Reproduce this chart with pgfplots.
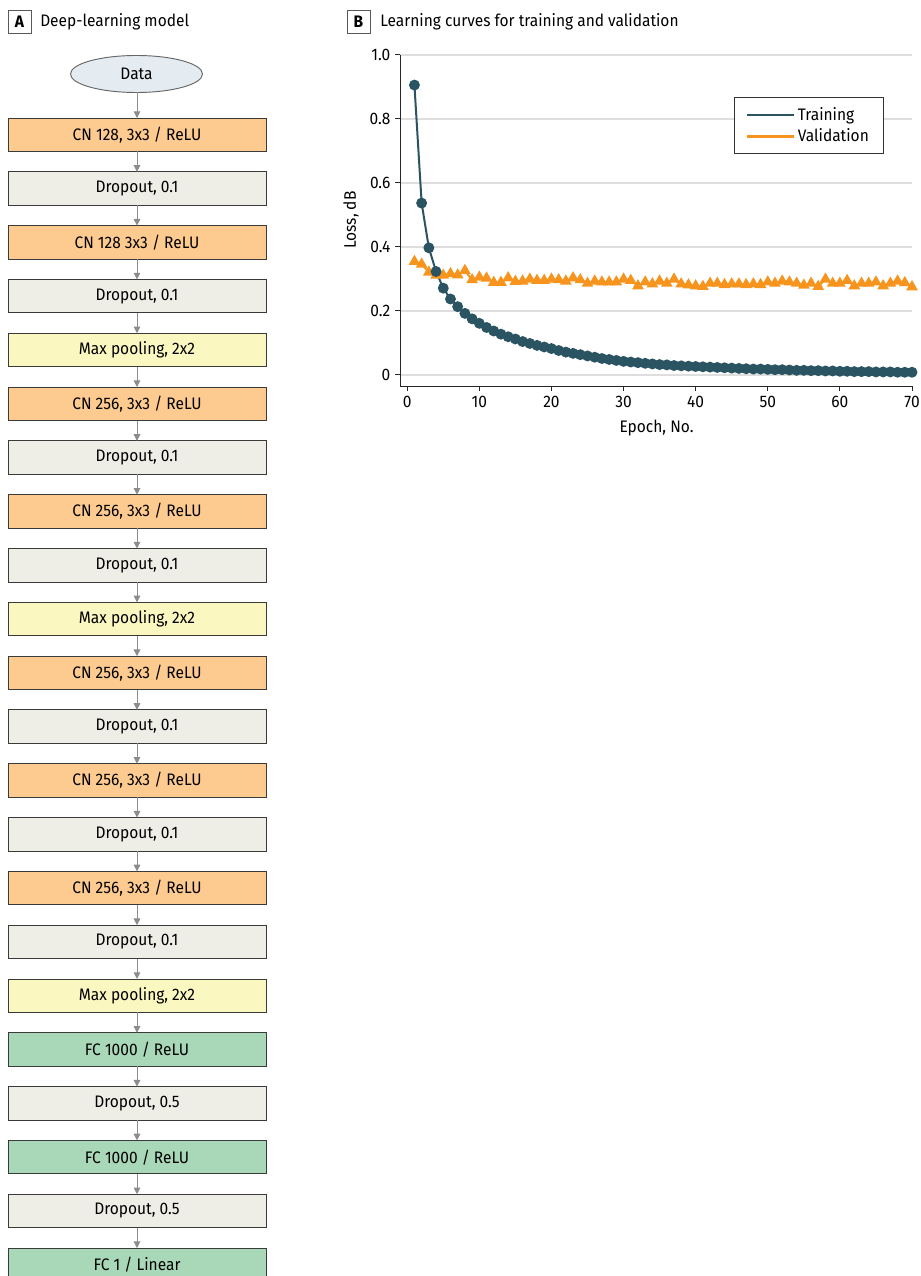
\documentclass[border=0pt]{standalone}
\usepackage{pgfplots}
\pgfplotsset{compat=1.18}
\usepackage{fontspec}
\setmainfont{Fira Sans}[FakeStretch=0.93]
\usetikzlibrary{arrows.meta,shapes.geometric}
\definecolor{cnc}{HTML}{FDCB8F}
\definecolor{dpc}{HTML}{EEEDE6}
\definecolor{mpc}{HTML}{FAF7C0}
\definecolor{fcc}{HTML}{A9D8B9}
\definecolor{datac}{HTML}{E4ECF1}
\definecolor{bordc}{HTML}{3A3A3A}
\definecolor{arrc}{HTML}{8C8C8C}
\definecolor{trainc}{HTML}{2B5463}
\definecolor{validc}{HTML}{F7941D}
\definecolor{gridc}{HTML}{DEDEDE}
\newcommand{\blk}[3]{%
  \node[draw=bordc, line width=0.7pt, fill=#2, minimum width=193.5pt, minimum height=25.1pt, inner sep=0pt]
    at (137,{134.75+53.81*#1}) {#3};}
\newcommand{\arr}[1]{%
  \draw[arrc, line width=0.75pt, -{Triangle[width=5pt,length=5pt]}] (137,{151.5+53.81*#1}) -- (137,{171.81+53.81*#1});}
\begin{document}
\begin{tikzpicture}[font=\fontsize{12.5}{15}\selectfont]
\begin{scope}[x=0.75pt,y=-0.75pt]
  % panel titles
  \node[draw=black!65, line width=0.6pt, minimum size=17.25pt, inner sep=0pt, font=\fontsize{12.5}{15}\selectfont\bfseries] at (19.5,21.5) {A};
  \node[anchor=west, inner sep=0pt] at (40,21.5) {Deep-learning model};
  \node[draw=black!65, line width=0.6pt, minimum size=17.25pt, inner sep=0pt, font=\fontsize{12.5}{15}\selectfont\bfseries] at (358.5,21.5) {B};
  \node[anchor=west, inner sep=0pt] at (380,21.5) {Learning curves for training and validation};
  % flowchart
  \node[ellipse, draw=black!60, line width=0.7pt, fill=datac, minimum width=99pt, minimum height=27.75pt, inner sep=0pt] at (136.5,74) {Data};
  \draw[arrc, line width=0.75pt, -{Triangle[width=5pt,length=5pt]}] (137,92.5) -- (137,118);
  \blk{0}{cnc}{CN 128, 3x3 / ReLU}
  \blk{1}{dpc}{Dropout, 0.1}
  \blk{2}{cnc}{CN 128 3x3 / ReLU}
  \blk{3}{dpc}{Dropout, 0.1}
  \blk{4}{mpc}{Max pooling, 2x2}
  \blk{5}{cnc}{CN 256, 3x3 / ReLU}
  \blk{6}{dpc}{Dropout, 0.1}
  \blk{7}{cnc}{CN 256, 3x3 / ReLU}
  \blk{8}{dpc}{Dropout, 0.1}
  \blk{9}{mpc}{Max pooling, 2x2}
  \blk{10}{cnc}{CN 256, 3x3 / ReLU}
  \blk{11}{dpc}{Dropout, 0.1}
  \blk{12}{cnc}{CN 256, 3x3 / ReLU}
  \blk{13}{dpc}{Dropout, 0.1}
  \blk{14}{cnc}{CN 256, 3x3 / ReLU}
  \blk{15}{dpc}{Dropout, 0.1}
  \blk{16}{mpc}{Max pooling, 2x2}
  \blk{17}{fcc}{FC 1000 / ReLU}
  \blk{18}{dpc}{Dropout, 0.5}
  \blk{19}{fcc}{FC 1000 / ReLU}
  \blk{20}{dpc}{Dropout, 0.5}
  \blk{21}{fcc}{FC 1 / Linear}
  \foreach \i in {0,...,20} {\arr{\i}}
  % axis labels
  \node[rotate=90] at (351,220) {Loss, dB};
  \node at (656.5,428) {Epoch, No.};
\end{scope}
\begin{axis}[
  at={(300pt,-289.5pt)}, anchor=south west,
  scale only axis, width=384pt, height=248.25pt,
  xmin=-1, xmax=70, ymin=-0.035, ymax=1,
  axis x line*=bottom, axis y line*=left,
  xtick={0,10,...,70}, ytick={0,0.2,0.4,0.6,0.8,1.0},
  yticklabels={0,0.2,0.4,0.6,0.8,1.0},
  ymajorgrids, grid style={color=gridc, line width=1.1pt},
  tick align=outside, major tick length=3.75pt,
  tick style={black!85, line width=0.75pt},
  axis line style={black!85, line width=0.75pt},
  tick label style={font=\fontsize{12.5}{15}\selectfont},
  /pgf/number format/assume math mode=true,
  clip=false,
  legend style={at={(axis description cs:0.9453,0.873)}, anchor=north east,
    draw=black!80, line width=0.75pt, font=\fontsize{12.5}{15}\selectfont,
    inner xsep=9pt, inner ysep=5.5pt, row sep=0.8pt},
  legend cell align=left, reverse legend,
  legend image code/.code={\draw[#1, mark=none, line width=1.6pt] (0pt,0pt) -- (35pt,0pt);},
]
\addplot[color=validc, line width=1.5pt, mark=triangle*, mark size=3.6pt, mark options={solid, fill=validc}] coordinates {
(1,0.354)(2,0.346)(3,0.321)(4,0.311)(5,0.311)(6,0.316)(7,0.312)(8,0.326)(9,0.297)(10,0.305)
(11,0.302)(12,0.289)(13,0.289)(14,0.303)(15,0.292)(16,0.293)(17,0.299)(18,0.295)(19,0.295)(20,0.299)
(21,0.297)(22,0.293)(23,0.303)(24,0.297)(25,0.286)(26,0.293)(27,0.290)(28,0.290)(29,0.290)(30,0.299)
(31,0.295)(32,0.278)(33,0.290)(34,0.284)(35,0.293)(36,0.286)(37,0.299)(38,0.284)(39,0.281)(40,0.278)
(41,0.276)(42,0.286)(43,0.286)(44,0.282)(45,0.284)(46,0.284)(47,0.282)(48,0.284)(49,0.282)(50,0.290)
(51,0.286)(52,0.293)(53,0.290)(54,0.286)(55,0.280)(56,0.286)(57,0.276)(58,0.299)(59,0.286)(60,0.286)
(61,0.295)(62,0.278)(63,0.286)(64,0.286)(65,0.290)(66,0.278)(67,0.286)(68,0.293)(69,0.288)(70,0.275)
};
\addplot[color=trainc, line width=1.5pt, mark=*, mark size=3.3pt, mark options={solid, fill=trainc}] coordinates {
(1,0.906)(2,0.537)(3,0.397)(4,0.323)(5,0.271)(6,0.237)(7,0.213)(8,0.192)(9,0.175)(10,0.161)
(11,0.148)(12,0.137)(13,0.127)(14,0.119)(15,0.112)(16,0.104)(17,0.098)(18,0.092)(19,0.087)(20,0.082)
(21,0.076)(22,0.071)(23,0.067)(24,0.063)(25,0.059)(26,0.055)(27,0.051)(28,0.048)(29,0.045)(30,0.042)
(31,0.040)(32,0.038)(33,0.036)(34,0.034)(35,0.032)(36,0.031)(37,0.029)(38,0.028)(39,0.027)(40,0.026)
(41,0.025)(42,0.024)(43,0.023)(44,0.022)(45,0.021)(46,0.020)(47,0.019)(48,0.018)(49,0.018)(50,0.017)
(51,0.016)(52,0.016)(53,0.015)(54,0.014)(55,0.014)(56,0.013)(57,0.013)(58,0.012)(59,0.012)(60,0.011)
(61,0.011)(62,0.010)(63,0.010)(64,0.010)(65,0.009)(66,0.009)(67,0.009)(68,0.008)(69,0.008)(70,0.008)
};
\legend{Validation,Training}
\end{axis}
\pgfresetboundingbox
\path[use as bounding box] (0pt,0pt) rectangle (690pt,-957pt);
\end{tikzpicture}
\end{document}
